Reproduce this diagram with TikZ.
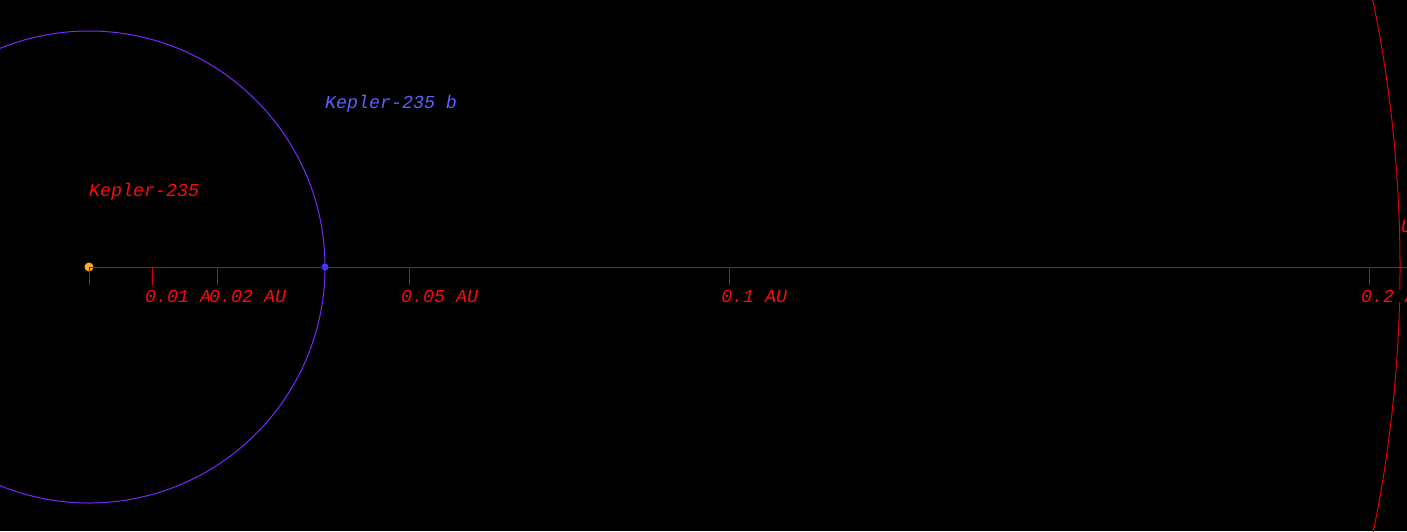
\documentclass[tikz,border=0pt]{standalone}
\usepackage{fontspec}
\setmonofont{Liberation Mono}
\usepackage{tikz}
\usetikzlibrary{positioning}
\definecolor{axisred}{RGB}{225, 0, 0}
\definecolor{textred}{RGB}{255, 10, 10}
\definecolor{orbit}{RGB}{120, 40, 255}
\definecolor{planet}{RGB}{95, 95, 255}
\definecolor{dotblue}{RGB}{60, 60, 255}
\definecolor{starorange}{RGB}{255, 170, 40}

\begin{document}
\begin{tikzpicture}[x=1pt, y=-1pt,
declare function={ au(\a) = 89 + 6400 * \a; },
lbl/.style={font=\ttfamily\itshape\fontsize{18.3}{18.3}\selectfont, fill=black, text=textred, inner sep=0, anchor=base west},
]

  \useasboundingbox (0, 0) rectangle (1407, 531);
  \fill[black] (0, 0) rectangle (1407, 531);
  \clip (0, 0) rectangle (1407, 531);

  \coordinate (axisend) at (1420, 267);
  \node[circle, fill=starorange, inner sep=0, minimum size=9] (star) at (89, 267) {};
  \node[circle, fill=dotblue, inner sep=0, minimum size=7] (planetb) at ({au(0.036875)}, 267) {};

  % orbits
  \draw[orbit, line width=1] (star.center) circle (236);
  \draw[axisred, line width=1] (star.center) circle (1311);

  \draw[axisred, line width=1] (star.center) -- (axisend);
  \draw[axisred, line width=1] (star.center) -- +(0, 18);

  \def\ticks{{0.01, 0.02, 0.05, 0.1, 0.2}}
  \foreach \n in {0, 1, ..., 4} {
    \pgfmathparse{\ticks[\n]}\edef\t{\pgfmathresult}
    \draw[axisred, line width=1] ({au(\t)}, 267) -- +(0, 18);
    \node[lbl] (tick\n) at ({au(\t) - 8}, 302) {\t\ AU};
  }

  \node[lbl] (starname) at (89, 196) {Kepler-235};
  \node[lbl, text=planet] (planetname) at (325, 108) {Kepler-235 b};
  \node[lbl] (zonename) at (1401, 232) {Umlauf};

\end{tikzpicture}
\end{document}
